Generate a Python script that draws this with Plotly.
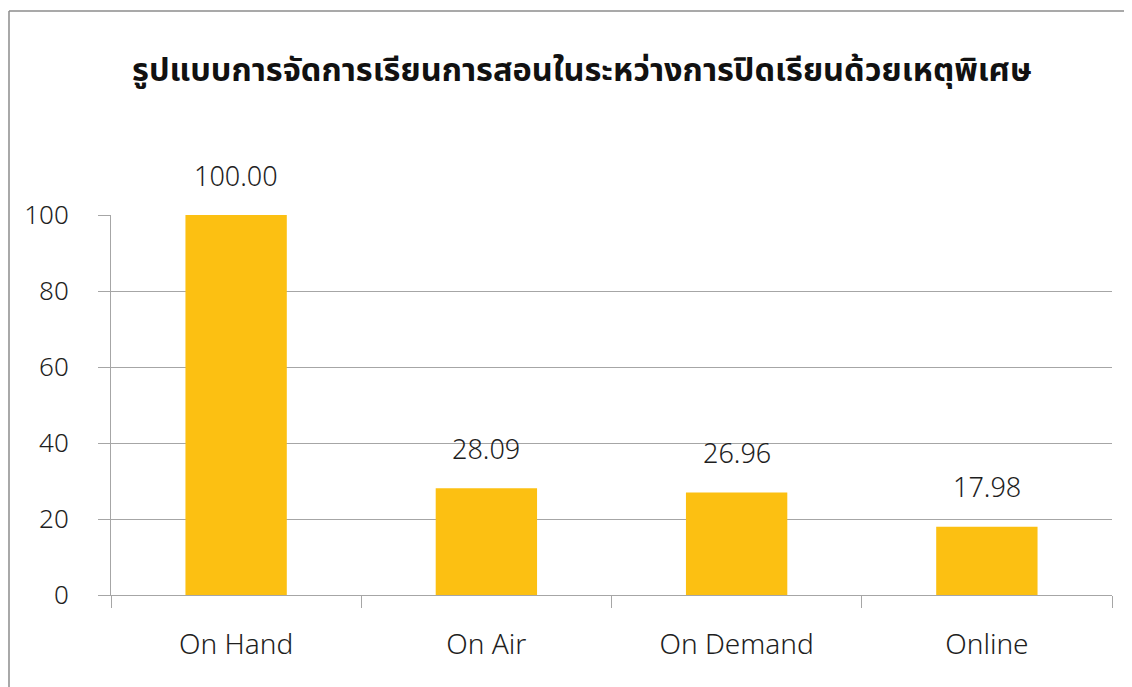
import plotly.graph_objects as go

title = "รูปแบบการจัดการเรียนการสอนในระหว่างการปิดเรียนด้วยเหตุพิเศษ"
categories = ["On Hand", "On Air", "On Demand", "Online"]
values = [100.00, 28.09, 26.96, 17.98]
y_ticks = [0, 20, 40, 60, 80, 100]

FONT = "Noto Sans, Noto Sans Thai, Leelawadee UI, Tahoma, sans-serif"
GRID = "#A6A6A6"
TXT = "#1E1E1E"
BORDER = "#8C8C8C"

fig = go.Figure()
fig.add_trace(go.Bar(
    x=categories, y=values,
    marker=dict(color="#FCC012", line=dict(width=0)),
    width=0.405,
    hoverinfo="x+y",
))

for c, v in zip(categories, values):
    fig.add_annotation(x=c, y=v, text=f"{v:.2f}", showarrow=False,
                       yshift=40, font=dict(size=27, color=TXT, family=FONT, weight=300))

# chart-area border (left and top edges visible in the frame)
fig.add_shape(type="line", xref="paper", yref="paper",
              x0=-0.1019, y0=-0.3, x1=-0.1019, y1=1.5368,
              line=dict(color=BORDER, width=1.5), layer="below")
fig.add_shape(type="line", xref="paper", yref="paper",
              x0=-0.1019, y0=1.5368, x1=1.05, y1=1.5368,
              line=dict(color=BORDER, width=1.5), layer="below")

fig.update_layout(
    width=1124, height=679,
    margin=dict(l=103, r=20, t=207, b=92),
    paper_bgcolor="white", plot_bgcolor="white",
    showlegend=False,
    title=dict(text=f"<b>{title}</b>", x=574 / 1124, xref="container", xanchor="center",
               y=1 - 62 / 679, yref="container", yanchor="middle",
               font=dict(size=32.5, color="#111111", family=FONT)),
    font=dict(family=FONT, size=26, color=TXT),
)

fig.update_xaxes(
    showgrid=False, showline=True, linecolor=GRID, linewidth=1,
    ticks="outside", tickson="boundaries", ticklen=12, tickcolor=GRID,
    tickfont=dict(size=28, color=TXT, family=FONT, weight=300),
    ticklabelstandoff=24,
)
fig.update_yaxes(
    range=[0, 100], tickvals=y_ticks, showgrid=True, gridcolor=GRID, gridwidth=1,
    showline=True, linecolor=GRID, linewidth=1, zeroline=False,
    ticks="outside", ticklen=12, tickcolor=GRID,
    tickfont=dict(size=26, color=TXT, family=FONT, weight=300),
    ticklabelstandoff=24,
)

fig.write_html("out.html")
